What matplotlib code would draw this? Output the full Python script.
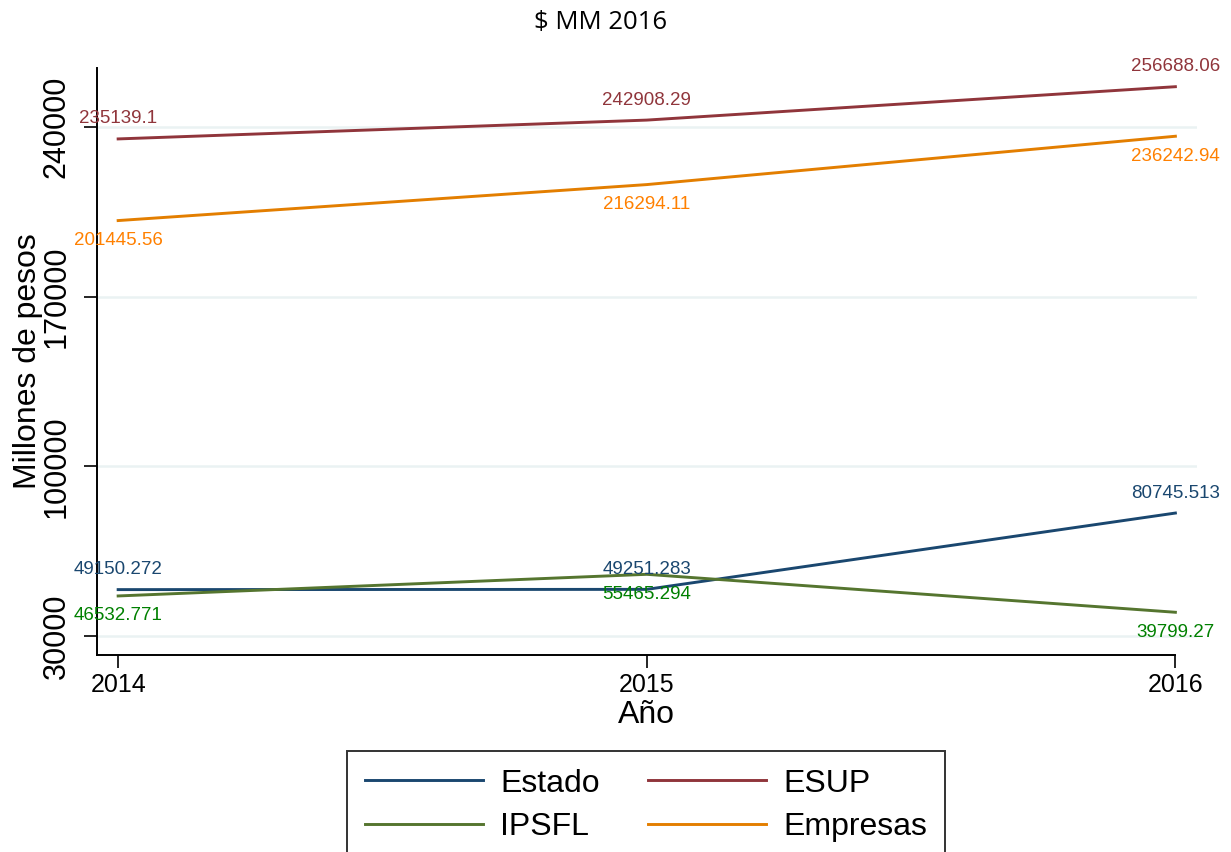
import matplotlib
matplotlib.use("Agg")
import matplotlib.pyplot as plt

# data
years = [2014, 2015, 2016]
estado = [49150.272, 49251.283, 80745.513]
esup = [235139.1, 242908.29, 256688.06]
ipsfl = [46532.771, 55465.294, 39799.27]
empresas = [201445.56, 216294.11, 236242.94]
yticks = [30000, 100000, 170000, 240000]

plt.rcParams['font.family'] = ['Liberation Sans', 'DejaVu Sans']

fig = plt.figure(figsize=(12.31, 8.52), dpi=100)
ax = fig.add_axes([0.0788, 0.2312, 0.8932, 0.6888])

series = [
    ("Estado", estado, '#1a476f', '#1a476f', 1),
    ("ESUP", esup, '#90353b', '#90353b', 1),
    ("IPSFL", ipsfl, '#55752f', '#008000', -1),
    ("Empresas", empresas, '#e37e00', '#ff8000', -1),
]

handles = {}
for name, vals, col, lcol, side in series:
    ln, = ax.plot(years, vals, color=col, lw=2.1, label=name, zorder=3)
    handles[name] = ln
    for x, v in zip(years, vals):
        ax.annotate(str(v), (x, v),
                    xytext=(0, 14.4 * side), textcoords='offset points',
                    ha='center', va='center', color=lcol, fontsize=13.5, zorder=4)

ax.set_xlim(2013.960, 2016.040)
ax.set_ylim(22160, 264340)
ax.set_xticks(years)
ax.set_xticklabels([str(y) for y in years])
ax.set_yticks(yticks)
ax.set_yticklabels([str(t) for t in yticks], rotation=90, va='center')

ax.grid(axis='y', color='#eaf2f3', lw=1.8, zorder=0)
ax.set_axisbelow(True)
for s in ['top', 'right']:
    ax.spines[s].set_visible(False)
ax.spines['left'].set_linewidth(1.4)
ax.spines['bottom'].set_linewidth(1.4)
ax.spines['bottom'].set_bounds(2013.960, 2016)

ax.tick_params(axis='x', length=9, width=1.2, pad=4, labelsize=18)
ax.tick_params(axis='y', length=9.4, width=1.2, pad=9, labelsize=22)

ax.set_xlabel("Año", fontsize=23, labelpad=2)
ax.set_ylabel("Millones de pesos", fontsize=23)
ax.yaxis.set_label_coords(-0.049, 0.5)

fig.text(0.488, 0.974, "$ MM 2016", ha='center', va='center', fontsize=18.5,
         family=['Open Sans', 'DejaVu Sans'])

order = ["Estado", "IPSFL", "ESUP", "Empresas"]
leg = fig.legend([handles[n] for n in order], order,
                 loc='upper left', bbox_to_anchor=(347 / 1231, 1 - 751 / 852),
                 ncol=2, fontsize=23, frameon=True, fancybox=False,
                 handlelength=3.7, handletextpad=0.55, columnspacing=1.5,
                 borderpad=0.55, labelspacing=0.42, borderaxespad=0)
leg.get_frame().set_edgecolor('black')
leg.get_frame().set_linewidth(1.4)

fig.savefig("out.png", dpi=100)
